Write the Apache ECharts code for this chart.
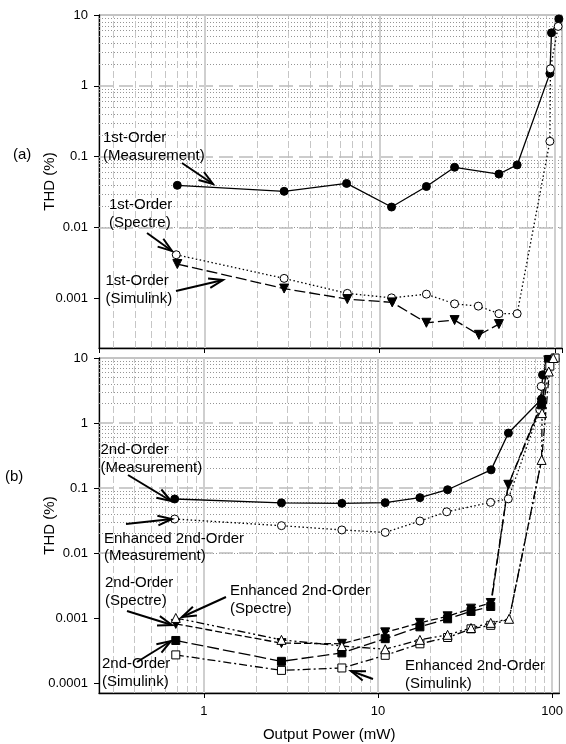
<!DOCTYPE html>
<html><head><meta charset="utf-8">
<script src="https://cdn.jsdelivr.net/npm/echarts@6/dist/echarts.min.js"></script>
<style>html,body{margin:0;padding:0;background:#fff}#c{width:566px;height:744px}</style>
</head><body><div id="c"></div>
<script>
// ---------- DATA ----------
// Panel (a)
const m1x = [0.70, 2.85, 6.48, 11.7, 18.5, 26.8, 48, 61, 93.8, 95.8, 105.6];
const m1y = [0.0395, 0.0325, 0.042, 0.0195, 0.038, 0.071, 0.057, 0.0766, 1.5, 5.6, 8.8];
const s1x = [0.69, 2.85, 6.54, 11.7, 18.5, 26.8, 36.6, 48, 61, 93.8, 94.5, 104.6];
const s1y = [0.00414, 0.00192, 0.00118, 0.00102, 0.00115, 0.00084, 0.00078, 0.00061, 0.00061, 0.165, 1.74, 6.9];
const k1x = [0.70, 2.85, 6.54, 11.8, 18.5, 26.8, 36.9, 48];
const k1y = [0.00306, 0.00138, 0.00098, 0.00088, 0.000454, 0.000495, 0.000307, 0.000435];
// Panel (b)
const m2x = [0.68, 2.79, 6.2, 11.0, 17.4, 25.1, 44.6, 56.1, 87, 88, 95];
const m2y = [0.0677, 0.059, 0.058, 0.0595, 0.071, 0.094, 0.19, 0.70, 2.34, 5.5, 9.4];
const e2x = [0.68, 2.79, 6.2, 11.0, 17.4, 24.8, 44.3, 56, 85, 86.5, 95];
const e2y = [0.0333, 0.0263, 0.0226, 0.0207, 0.031, 0.043, 0.06, 0.068, 1.6, 3.66, 7.4];
const sp2x = [0.69, 2.79, 6.2, 11.0, 17.4, 25.1, 34.2, 44.4, 56, 87, 95];
const sp2y = [0.00081, 0.00041, 0.0004, 0.0006, 0.00084, 0.00106, 0.00139, 0.0017, 0.112, 2.05, 9.2];
const sq2x = [0.69, 2.79, 6.2, 11.0, 17.4, 25.1, 34.2, 44.4, 56, 87, 96];
const sq2y = [0.00045, 0.000215, 0.00029, 0.00048, 0.00073, 0.00097, 0.00126, 0.0015, 0.112, 1.9, 9.5];
const es2x = [0.69, 2.79, 6.2, 11.0, 17.4, 25.1, 34.2, 44.4, 56.6, 87, 87.5, 95.6, 101.5];
const es2y = [0.001, 0.00046, 0.00037, 0.00033, 0.00046, 0.00055, 0.0007, 0.00084, 0.00097, 0.27, 1.42, 6.2, 10];
const eq2x = [0.69, 2.79, 6.2, 11.0, 17.4, 25.1, 34.2, 44.4, 56.6, 87, 97, 104];
const eq2y = [0.00027, 0.000156, 0.00017, 0.000266, 0.0004, 0.0005, 0.00068, 0.00077, 0.00097, 0.27, 7.5, 10];

const xTickLabels = ['1', '10', '100'];
const yTickLabelsA = ['0.001', '0.01', '0.1', '1', '10'];
const yTickLabelsB = ['0.0001', '0.001', '0.01', '0.1', '1', '10'];

// ---------- helpers ----------
const FONT = '"Liberation Sans", Arial, sans-serif';
const pts = (xs, ys, hidden) => xs.map((x, i) =>
  (hidden && hidden.indexOf(i) >= 0) ? {value: [x, ys[i]], symbol: 'none'} : [x, ys[i]]);

function gridValues(lo, hi, decadesOnly) {
  const out = [];
  for (let e = -5; e <= 2; e++) {
    const d = Math.pow(10, e);
    const ks = decadesOnly ? [1] : [2, 3, 4, 5, 6, 7, 8, 9];
    ks.forEach(k => {
      const v = parseFloat((k * d).toPrecision(6));
      if (v > lo * 1.0001 && v < hi * 0.9999) out.push(v);
    });
  }
  return out;
}
const XMIN = 0.25, XMAX = 110;
const YMIN_A = 0.0002, YMIN_B = 0.00007, YMAX = 10;

function gridSeries(gi, ymin) {
  const vMinor = gridValues(XMIN, XMAX, false).map(v => ({xAxis: v}));
  const vMajor = gridValues(XMIN, XMAX, true).map(v => ({xAxis: v}));
  const hMinor = gridValues(ymin, YMAX, false).map(v => ({yAxis: v}));
  const hMajor = gridValues(ymin, YMAX, true).map(v => ({yAxis: v}));
  const mk = (data, ls) => ({
    type: 'line', xAxisIndex: gi, yAxisIndex: gi, data: [], silent: true,
    markLine: {silent: true, symbol: ['none', 'none'], label: {show: false}, animation: false, z: 1,
      emphasis: {disabled: true}, lineStyle: ls, data: data}
  });
  return [
    mk(hMinor, {color: '#959595', width: 1, type: [1, 2]}),
    mk(vMinor, {color: '#c6c6c6', width: 1, type: [7, 3]}),
    mk(hMajor, {color: '#bcbcbc', width: 1.5, type: [14, 6]}),
    mk(vMajor, {color: '#cfcfcf', width: 2, type: 'solid'})
  ];
}

function ser(gi, data, symbol, filled, dash, rotate, size) {
  return {
    type: 'line', xAxisIndex: gi, yAxisIndex: gi, data: data, z: 3,
    symbol: symbol, symbolSize: size || 8, symbolRotate: rotate || 0, showSymbol: true,
    lineStyle: {color: '#000', width: 1.3, type: dash},
    itemStyle: {color: filled ? '#000' : '#fff', borderColor: '#000', borderWidth: 1},
    animation: false, silent: true
  };
}

const labelFmt = v => String(parseFloat(Number(v).toPrecision(6)));

function xAxisDef(gi, withLabels) {
  return {
    type: 'log', logBase: 10, gridIndex: gi, min: XMIN, max: XMAX,
    axisLine: {show: true, onZero: false, lineStyle: {color: '#000', width: 1.3}},
    axisTick: {show: true, inside: false, length: 5, lineStyle: {color: '#000', width: 1}},
    axisLabel: {show: withLabels, showMinLabel: false, showMaxLabel: false, margin: 12,
      color: '#000', fontSize: 13, fontFamily: FONT, formatter: labelFmt},
    splitLine: {show: false},
    name: withLabels ? 'Output Power (mW)' : '', nameLocation: 'middle', nameGap: 34, nameMoveOverlap: false,
    nameTextStyle: {color: '#000', fontSize: 15, fontFamily: FONT}
  };
}
function yAxisDef(gi, ymin) {
  return {
    type: 'log', logBase: 10, gridIndex: gi, min: ymin, max: YMAX,
    axisLine: {show: true, onZero: false, lineStyle: {color: '#000', width: 1.3}},
    axisTick: {show: true, inside: false, length: 5, lineStyle: {color: '#000', width: 1}},
    axisLabel: {showMinLabel: false, margin: 11, color: '#000', fontSize: 13, fontFamily: FONT, formatter: labelFmt},
    splitLine: {show: false},
    name: 'THD (%)', nameLocation: 'middle', nameGap: 42, nameMoveOverlap: false,
    nameTextStyle: {color: '#000', fontSize: 15, fontFamily: FONT}
  };
}

// annotation layout (pixels)
const notes = [
  ['1st-Order\n(Measurement)', 103, 138], ['1st-Order\n(Spectre)', 109, 205], ['1st-Order\n(Simulink)', 105.5, 281],
  ['2nd-Order\n(Measurement)', 100.5, 450], ['Enhanced 2nd-Order\n(Measurement)', 104, 538.5],
  ['2nd-Order\n(Spectre)', 105, 583], ['Enhanced 2nd-Order\n(Spectre)', 230, 591],
  ['2nd-Order\n(Simulink)', 102, 664], ['Enhanced 2nd-Order\n(Simulink)', 405, 666]
];
const arrows = [
  [182, 163, 213, 184], [147, 233, 172, 251], [176, 291, 223, 280],
  [128, 475, 171, 501], [126, 524, 172, 519], [127, 611, 172, 625],
  [226, 597, 182, 617], [137, 662, 171, 641], [373, 679, 351, 671]
];
const graphics = [];
notes.forEach(n => graphics.push({type: 'text', x: n[1], y: n[2] - 8.75, z: 50,
  style: {text: n[0], font: '15px ' + FONT, fill: '#000', lineHeight: 17.5}}));
graphics.push({type: 'text', x: 13, y: 156 - 9, z: 50, style: {text: '(a)', font: '15px ' + FONT, fill: '#000'}});
graphics.push({type: 'text', x: 5, y: 478 - 9, z: 50, style: {text: '(b)', font: '15px ' + FONT, fill: '#000'}});
arrows.forEach(a => {
  const [x1, y1, x2, y2] = a;
  const ang = Math.atan2(y2 - y1, x2 - x1), L = 15, h = 0.33;
  const b1 = [x2 - L * Math.cos(ang - h), y2 - L * Math.sin(ang - h)];
  const b2 = [x2 - L * Math.cos(ang + h), y2 - L * Math.sin(ang + h)];
  graphics.push({type: 'polyline', z: 50, shape: {points: [[x1, y1], [x2, y2]]}, style: {stroke: '#000', lineWidth: 2, fill: null}});
  graphics.push({type: 'polyline', z: 50, shape: {points: [b1, [x2, y2], b2]}, style: {stroke: '#000', lineWidth: 2, fill: null}});
});

const chart = echarts.init(document.getElementById('c'), null, {renderer: 'canvas'});
chart.setOption({
  animation: false,
  backgroundColor: '#fff',
  grid: [
    {left: 99, top: 15, width: 463, height: 333, show: true, borderColor: '#8a8a8a', borderWidth: 1, backgroundColor: 'transparent'},
    {left: 99, top: 358, width: 463, height: 335, show: true, borderColor: '#8a8a8a', borderWidth: 1, backgroundColor: 'transparent'}
  ],
  xAxis: [xAxisDef(0, false), xAxisDef(1, true)],
  yAxis: [yAxisDef(0, YMIN_A), yAxisDef(1, YMIN_B)],
  series: [].concat(
    gridSeries(0, YMIN_A), gridSeries(1, YMIN_B),
    [
      ser(0, pts(m1x, m1y), 'circle', true, 'solid'),
      ser(0, pts(s1x, s1y), 'circle', false, [1.5, 2.5]),
      ser(0, pts(k1x, k1y), 'triangle', true, [11, 4], 180, 9),
      ser(1, pts(m2x, m2y), 'circle', true, 'solid'),
      ser(1, pts(e2x, e2y), 'circle', false, [1.5, 2.5]),
      ser(1, pts(sq2x, sq2y, [8]), 'rect', true, [12, 4]),
      ser(1, pts(sp2x, sp2y), 'triangle', true, [7, 3], 180, 9),
      ser(1, pts(eq2x, eq2y, [8, 9]), 'rect', false, [8, 3, 2, 3]),
      ser(1, pts(es2x, es2y), 'triangle', false, [8, 3, 2, 3, 2, 3], 0, 9)
    ]
  ),
  graphic: graphics
});
</script>
</body></html>
